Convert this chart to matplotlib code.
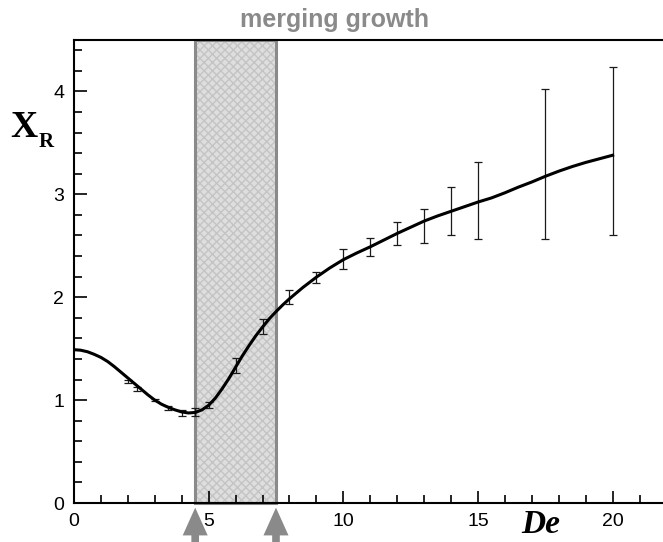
import matplotlib
matplotlib.use('Agg')
from matplotlib import pyplot as plt
from matplotlib.ticker import MultipleLocator

# smooth fit of the reattachment length
curve_de = [0, 0.25, 0.5, 0.75, 1, 1.25, 1.5, 1.75, 2, 2.25, 2.5, 2.75, 3, 3.25, 3.5, 3.75,
            4, 4.25, 4.5, 4.75, 5, 5.25, 5.5, 5.75, 6, 6.25, 6.5, 6.75, 7, 7.25, 7.5, 7.75,
            8, 8.5, 9, 9.5, 10, 10.5, 11, 11.5, 12, 12.5, 13, 13.5, 14, 14.5, 15, 15.5,
            16, 16.5, 17, 17.5, 18, 18.5, 19, 19.5, 20]
curve_xr = [1.49, 1.485, 1.47, 1.445, 1.415, 1.375, 1.325, 1.27, 1.215, 1.16, 1.105, 1.05,
            1.00, 0.96, 0.93, 0.905, 0.885, 0.875, 0.88, 0.905, 0.95, 1.02, 1.11, 1.21,
            1.32, 1.43, 1.53, 1.625, 1.71, 1.79, 1.86, 1.925, 1.985, 2.095, 2.195, 2.285,
            2.365, 2.43, 2.49, 2.555, 2.62, 2.68, 2.74, 2.79, 2.835, 2.88, 2.925, 2.965,
            3.015, 3.07, 3.12, 3.175, 3.225, 3.27, 3.31, 3.345, 3.38]

# measured points with scatter
meas_de = [2, 2.33, 3, 3.5, 4, 4.5, 5, 6, 7, 8, 9, 10, 11, 12, 13, 14, 15, 17.5, 20]
meas_xr = [1.18, 1.11, 1.00, 0.92, 0.875, 0.885, 0.95, 1.335, 1.715, 2.0, 2.195, 2.37, 2.49,
           2.62, 2.695, 2.835, 2.94, 3.295, 3.42]
meas_err = [0.015, 0.02, 0.01, 0.02, 0.03, 0.04, 0.03, 0.075, 0.075, 0.07, 0.055, 0.10, 0.09,
            0.11, 0.165, 0.235, 0.37, 0.725, 0.82]

# merging growth band
band = [4.5, 7.5]

plt.rcParams['font.family'] = ['Liberation Sans', 'DejaVu Sans']

fig = plt.figure(figsize=(6.63, 5.42), dpi=100)
ax = fig.add_axes([74 / 663, 39 / 542, 592.5 / 663, 463 / 542])

ax.axvspan(band[0], band[1], facecolor='#dedede', edgecolor='#c4c4c4', hatch='xxxx',
           linewidth=0, zorder=1)
ax.axvspan(band[0], band[1], facecolor='none', edgecolor='#8a8a8a', linewidth=2.2,
           zorder=2, clip_on=False)

ax.errorbar(meas_de, meas_xr, yerr=meas_err, fmt='none', ecolor='#1a1a1a', elinewidth=0.9,
            capsize=3, capthick=0.9, zorder=3)
ax.plot(curve_de, curve_xr, color='black', linewidth=2.2, zorder=4)

ax.set_xlim(0, 22)
ax.set_ylim(0, 4.5)
ax.xaxis.set_major_locator(MultipleLocator(5))
ax.xaxis.set_minor_locator(MultipleLocator(1))
ax.yaxis.set_major_locator(MultipleLocator(1))
ax.yaxis.set_minor_locator(MultipleLocator(0.2))
ax.tick_params(which='both', direction='in', top=False, right=False, labelsize=14, width=1.2)
ax.tick_params(which='major', length=9, pad=7)
ax.tick_params(which='minor', length=5.5)
ax.spines['right'].set_visible(False)
for s in ['left', 'bottom', 'top']:
    ax.spines[s].set_linewidth(1.5)

# arrows marking the band edges
for x in band:
    ax.annotate('', xy=(x, -0.004), xycoords=('data', 'axes fraction'),
                xytext=(x, -0.1), textcoords=('data', 'axes fraction'),
                arrowprops=dict(arrowstyle='simple,head_length=2.0,head_width=1.8,tail_width=0.55',
                                mutation_scale=10, color='#8a8a8a', lw=0),
                annotation_clip=False)

fig.text(335 / 663, 1 - 27 / 542, 'merging growth', color='#8a8a8a', fontsize=18,
         fontweight='bold', ha='center', va='baseline')
fig.text(541 / 663, 1 - 533 / 542, 'De', family='Liberation Serif', fontsize=24,
         fontweight='bold', fontstyle='italic', ha='center', va='baseline')
fig.text(10 / 663, 1 - 137 / 542, 'X', family='Liberation Serif', fontsize=27,
         fontweight='bold', ha='left', va='baseline')
fig.text(39 / 663, 1 - 147 / 542, 'R', family='Liberation Serif', fontsize=15,
         fontweight='bold', ha='left', va='baseline')

fig.savefig('out.png', dpi=100)
